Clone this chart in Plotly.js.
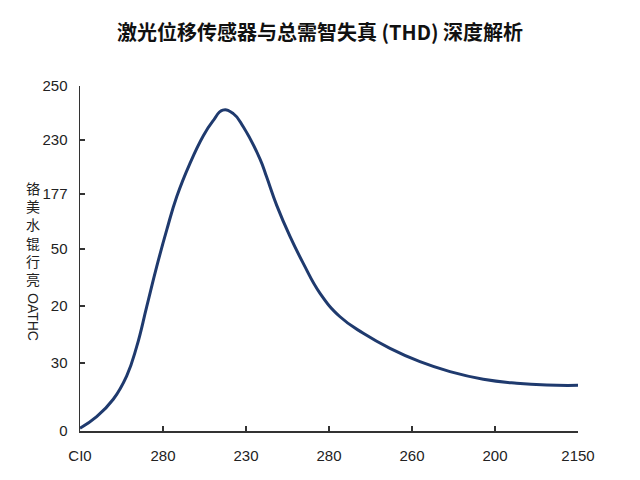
<!DOCTYPE html>
<html>
<head>
<meta charset="utf-8">
<script src="https://cdn.plot.ly/plotly-3.0.1.min.js"></script>
<style>html,body{margin:0;padding:0;background:#fff;}#chart{width:640px;height:480px;}</style>
</head>
<body>
<div id="chart"></div>
<script>
// Curve (x in tick units 0..6, y in axis units 0..250)
const xValues = [0, 0.201, 0.401, 0.563, 0.683, 0.804, 0.924, 1.045, 1.165, 1.325, 1.486, 1.6, 1.72, 1.847, 1.967, 2.169, 2.249, 2.37, 2.53, 2.69, 2.892, 3.133, 3.413, 3.735, 4.096, 4.458, 4.859, 5.261, 5.622, 6.0];
const yValues = [2.0, 10.4, 23.0, 40.0, 61.1, 90.1, 119.1, 145.7, 169.8, 194.0, 214.0, 224.5, 232.5, 230.0, 220.5, 197.0, 184.0, 163.5, 141.0, 121.5, 99.8, 82.8, 70.8, 59.9, 50.2, 43.0, 37.5, 34.6, 33.3, 33.1];

const xTickVals = [0, 1, 2, 3, 4, 5, 6];
const xTickText = ['CI0', '280', '230', '280', '260', '200', '2150'];
const yTickVals = [0, 49.3, 90.6, 131.9, 171.7, 210.9, 250];
const yTickText = ['0', '30', '20', '50', '177', '230', '250'];

const titleText = '激光位移传感器与总需智失真 (THD) 深度解析';
const yTitleCJK = ['铬', '美', '水', '锟', '行', '亮'];
const yTitleLatin = 'OATHC';

const tickFont = {family: 'Liberation Sans, DejaVu Sans, sans-serif', size: 15, color: '#222'};

const trace = {
  x: xValues, y: yValues, type: 'scatter', mode: 'lines',
  line: {color: '#1f3a6e', width: 3, shape: 'spline', smoothing: 1.3},
  hoverinfo: 'skip'
};

const layout = {
  width: 640, height: 480,
  margin: {l: 80, r: 62, t: 86, b: 49},
  paper_bgcolor: '#ffffff', plot_bgcolor: '#ffffff',
  showlegend: false,
  title: {
    text: titleText,
    font: {family: 'Noto Sans CJK SC, sans-serif', size: 20, color: '#111', weight: 'bold'},
    x: 0.5, xanchor: 'center', y: 1 - 33/480, yanchor: 'middle', yref: 'container'
  },
  xaxis: {
    range: [0, 6], tickvals: xTickVals, ticktext: xTickText,
    showgrid: false, zeroline: false, showline: true, linecolor: '#333', linewidth: 1.5,
    ticks: 'inside', ticklen: 5, tickcolor: '#333', tickwidth: 1.2,
    tickfont: tickFont, ticklabelstandoff: 10
  },
  yaxis: {
    range: [0, 250], tickvals: yTickVals, ticktext: yTickText,
    showgrid: false, zeroline: false, showline: true, linecolor: '#333', linewidth: 1.5,
    ticks: 'inside', ticklen: 5, tickcolor: '#333', tickwidth: 1.2,
    tickfont: tickFont, ticklabelstandoff: 8
  },
  annotations: [
    {
      text: yTitleCJK.join('<br>'), xref: 'paper', yref: 'paper',
      x: (33 - 80) / 498, y: (431 - 233) / 345, xanchor: 'center', yanchor: 'middle',
      showarrow: false, font: {family: 'Noto Sans CJK SC, sans-serif', size: 14, color: '#222'}
    },
    {
      text: yTitleLatin, xref: 'paper', yref: 'paper', textangle: 90,
      x: (33 - 80) / 498, y: (431 - 317) / 345, xanchor: 'center', yanchor: 'middle',
      showarrow: false, font: {family: 'Liberation Sans, sans-serif', size: 14, color: '#222'}
    }
  ]
};

Plotly.newPlot('chart', [trace], layout, {displayModeBar: false, staticPlot: true});
</script>
</body>
</html>
